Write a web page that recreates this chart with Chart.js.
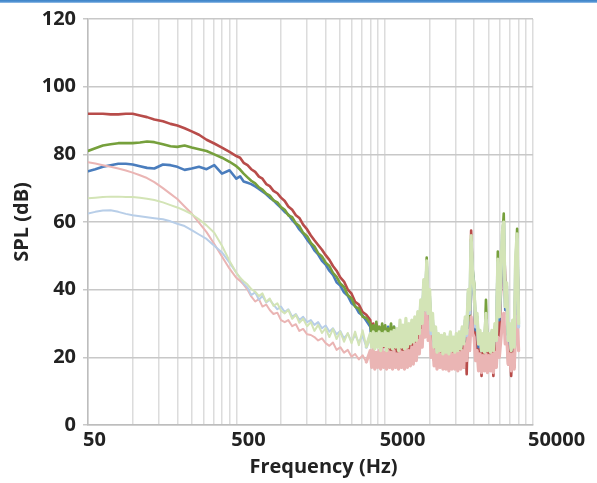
<!DOCTYPE html>
<html><head><meta charset="utf-8">
<script src="https://cdn.jsdelivr.net/npm/chart.js@4/dist/chart.umd.min.js"></script>
<style>
html,body{margin:0;padding:0;background:#fff;}
#wrap{position:relative;width:597px;height:483px;overflow:hidden;}
#topbar{position:absolute;left:0;top:0;width:597px;height:3px;background:linear-gradient(#3d82c6,#5797d6 66%,#b3d0ee);}
canvas{display:block;}
</style></head><body>
<div id="wrap"><canvas id="c" width="597" height="483"></canvas><div id="topbar"></div></div>
<script>
// Frequencies (Hz)
const frequencies = [
50,56,63,71,80,90,100,112,125,140,160,180,200,224,250,280,315,355,400,450,
500,530,560,595,630,670,710,750,795,840,890,945,1000,1060,1120,1190,1260,1330,1410,1500,1590,1680,1780,1890,2000,2120,2240,2370,2510,2660,2820,2990,3160,3350,3550,3760,
4000,4090,4190,4290,4390,4490,4590,4700,4810,4920,
5040,5150,5270,5400,5520,5650,5780,5920,6060,6200,
6340,6490,6640,6800,6950,7120,7280,7450,7620,7800,
7980,8170,8360,8560,8750,8960,9170,9380,9600,9820,
10050,10280,10520,10770,11020,11270,11540,11800,12080,12360,
12650,12940,13240,13550,13870,14190,14520,14860,15200,15560,
15920,16290,16670,17060,17460,17860,18280,18700,19140,19590,
20040,20510,20990,21470,21970,22490,23010,23540,24090,24650,
25230,25820,26420,27030,27660,28300,28960,29640,30330,31030,
31750,32490,33250,34030,34820,35630,36460,37310,38180,39070,
40000];

// SPL (dB) series
const splDarkRed = [
92,92,92,91.8,91.8,92,92,91.5,91,90.3,89.8,89,88.5,87.7,86.8,85.8,84.3,83.2,82,80.7,
79.5,79,77.5,76.8,75.6,74.8,73.4,72.8,71.2,70.6,69.2,68.5,67.2,66.2,64.6,63.6,62,61.2,59.2,57.8,56,54.6,53.2,51.8,50.2,48.8,47,45.6,43.6,42.4,40,38.8,36.4,35.6,33.4,32.6,
31,27,30,26.5,29.5,25,29,24.5,28.5,23,
28,22,27.5,21,27,20,27.5,19.5,27,19,
28,19,27,18.5,28,19,27.5,20,29,21,
30,22,31,24,34,27,40,30,46,30,
36,24,29,19,25,17.5,24,18,23.5,17.5,
24,18,23,17,24,17.5,23,17,24,16.5,
24,17,25,17,28,15,33,22,57.5,44,
38,20,28,17,24,14.5,23,17,26,16.5,
23,16.5,24,14.5,26,18,45,25,38,50,
55,43.5,36,18,25,14.5,24,17,40,52,
33.6];

const splDarkGreen = [
81,81.8,82.6,83,83.3,83.3,83.3,83.5,83.8,83.6,83,82.4,82.2,82.6,82,81.5,81,80,79,77.8,
76.5,75.5,74.3,73.2,72.2,71.4,70.2,69.6,68.4,67.8,66.4,65.8,64.4,63.6,62,61.4,59.6,58.8,56.8,55.8,53.8,52.8,50.8,49.8,48,47,45,43.8,41.8,40.8,38.4,37.4,35,34.4,32,31.6,
30,27,29.5,26,30.5,27.5,29,26.5,30,27,
29.5,26,28.5,27,30,25.5,29,26,28,25,
29,25,28,24.5,29.5,25,28,26,29,27,
30,27,32,29,36,31,42,35,49.5,34,
38,29,31,25,27,23,26,24,25,22.5,
26,23,25.5,22.5,26,23,25,24,26,23,
26,24,28,25,31,27,36,31,55,46,
42,30,32,25,27,24,26,23,37,24,
26,23,27,23.5,29,26,51.3,33,42,55,
62.5,36,40,26,28,23,30,25,44,58,
31];

const splDarkBlue = [
75,75.6,76.3,76.8,77.2,77.2,77,76.5,76,75.8,77,76.8,76.3,75.4,75.8,76.3,75.6,76.8,74.3,75.3,
72.8,73.5,72,71.6,71.2,70.5,69.8,69,68.2,67.2,66.4,65.2,64.2,63,62.2,60.6,59.4,57.8,56.6,54.8,53.4,51.6,50.4,48.5,47.4,45.6,44.4,42.2,41.2,39.2,38.2,36,35.2,33.2,32.4,30.8,
29,24,28,25,29.5,24.5,28,25,29,24,
28.5,25,29,24,28,24.5,29,24,27.5,23.5,
28,23.5,27.5,23,28.5,24,28,25,29,26,
30,27,32,29,36,31,41,34,47,33,
37,27,30,23.5,27,22,26,23,25,22,
26,22,25,22,26,22.5,25.5,23,25.5,23,
26,23,28,24,30,26,35,30,44,42,
38,28,31,23,26,22,25,22,30,22,
25,22,26,22.5,28,25,47,31,40,54,
57,34,39,24,27,22,28,23,43,54,
29];

const splLightRed = [
77.7,77.3,76.8,76.3,75.8,75.2,74.6,73.8,73,71.8,70,68.3,66.8,64.6,62.5,59.8,57,53.5,49.8,46.2,
43.5,42.6,41.5,40,38,36.5,37.2,35,35.6,34,32.8,33.2,31,30.4,31,29.2,29.8,27.8,28.4,26.8,26.6,26,25,25.6,24.2,23.4,24.4,22.2,23,21.4,22.2,20.2,21,19.4,20.6,18.6,
22,17,22.5,16.5,21.5,17,22,16.5,22.5,17,
21.5,16.5,22,17,21.5,16.5,22,17,21,16.5,
22,17,21.5,16.5,22.5,17,22,17.5,23,18,
24,19,25,21,28,23,33,26,36,25,
30,20,24,17.5,22,16.5,21.5,17,21,16.5,
21.5,16.5,21,16,21.5,16.5,21,16.5,21.5,16,
21.5,16.5,22,17,24,19,28,22,32,27,
26,19,22,16,21,15.5,20.5,16,21,15.5,
20.5,16,21,15.5,21.5,17,26,20,25,30,
33,24,26,18,21,16,21,16.5,27,32,
22];

const splLightGreen = [
67,67.2,67.4,67.5,67.5,67.4,67.4,67.2,66.9,66.5,65.8,65,64.3,63.4,62.3,60.8,59,56.8,53,48.5,
45,43.5,42.5,41.5,40.2,39.4,38.1,38.9,36.4,37.4,35.2,36,33.8,33,34,31.4,32.6,30.2,31.4,29.2,30.4,27.8,29.6,27.2,28.6,26,28.4,25.4,27.6,24.6,27.2,24.2,27.6,23.6,28,23.2,
27,23,27.5,22.5,27,23,27.5,22,27,23.5,
27.5,22,27,23,27.5,22.5,28,23,28.5,22,
31,23,29.5,22.5,31.5,23,30,24,31,24.5,
32,25,33.5,27,37,30,43,34,48.5,33,
40,28,33,23,29,21.5,27,22,26.5,21,
27,21.5,26,21,27.5,22,26,21.5,27,22,
27.5,22.5,29,24,32,27,40,34,56,44,
40,30,33,24,28,22,27,21.5,33,22,
27,21.5,28,22,30,25,49,32,44,57,
60,35,42,25,30,22,31,23,50,56.5,
30];

const splLightBlue = [
62.5,63,63.4,63.5,63,62.4,62,61.7,61.4,61.1,60.8,60.2,59.5,58.8,57.6,56.3,55,53,51,48,
45,43.5,41.8,40.6,38.4,39.2,37,38.2,36.2,37,35.6,34.2,35,33.4,34.2,32,32.8,31,32,30.4,31,29.6,30.4,28.6,29.4,27.6,28.6,26.8,27.8,25.6,27,24.6,26.6,24.4,26.4,23,
26.5,23.5,27,23,26.5,23.5,27,23,26.5,23.5,
27,23,26.5,23.5,27,23,27.5,23.5,27,23,
29,23.5,28,23,29.5,23.5,28.5,24.5,29.5,25,
31,26,32.5,28,36,31,42,34,47,33,
38,27,31,23.5,28,22,26,23,26,22,
26.5,22,25.5,21.5,27,22.5,25.5,22,26.5,22.5,
27,23,28.5,24.5,31,26.5,39,33,54,45,
39,29,32,24,27,22,26.5,22,31,22.5,
26.5,22,27.5,22.5,29,25,48,32,43,56,
59.7,35,41,25,29,22.5,30,23.5,48,55,
29];

// Axis ticks
const xGridValues = [50,100,150,200,250,300,350,400,450,500,1000,1500,2000,2500,3000,3500,4000,4500,5000,10000,15000,20000,25000,30000,35000,40000,45000,50000];
const xLabelValues = [50,500,5000,50000];
const xTickLabels = ['50','500','5000','50000'];
const yTickValues = [0,20,40,60,80,100,120];

const seriesList = [
  {data: splLightGreen, color: '#d3e4b6', width: 2, dense: 3.2, order: 0},
  {data: splLightBlue,  color: '#b8cee8', width: 2, dense: 3.2, order: 1},
  {data: splLightRed,   color: '#eab5b4', width: 2, dense: 3.2, order: 2},
  {data: splDarkGreen,  color: '#76a03c', width: 2.6, dense: 2.6, order: 3},
  {data: splDarkBlue,   color: '#4a7dbd', width: 2.6, dense: 2.6, order: 4},
  {data: splDarkRed,    color: '#b84c4a', width: 2.6, dense: 2.6, order: 5}
];

const font = {family: "'Open Sans', 'Liberation Sans', sans-serif", weight: 'bold', size: 20};

new Chart(document.getElementById('c'), {
  type: 'line',
  data: {
    datasets: seriesList.map(s => ({
      data: frequencies.map((f, i) => ({x: f, y: s.data[i]})),
      borderColor: s.color,
      borderWidth: s.width,
      segment: {borderWidth: ctx => ctx.p0.parsed.x >= 3700 ? s.dense : s.width},
      pointRadius: 0,
      tension: 0,
      fill: false,
      borderJoinStyle: 'round',
      borderCapStyle: 'round',
      order: s.order
    }))
  },
  options: {
    responsive: false,
    animation: false,
    devicePixelRatio: 1,
    layout: {padding: {left: 0, right: 64, top: 17, bottom: 0}},
    plugins: {legend: {display: false}, tooltip: {enabled: false}},
    scales: {
      x: {
        type: 'logarithmic',
        min: 50, max: 50000,
        afterBuildTicks: axis => { axis.ticks = xGridValues.map(v => ({value: v})); },
        afterFit: axis => { axis.height = 58; },
        ticks: {
          autoSkip: false, maxRotation: 0, minRotation: 0,
          align: 'start', labelOffset: -5, padding: 3,
          color: '#222', font: font,
          callback: v => { const i = xLabelValues.indexOf(v); return i >= 0 ? xTickLabels[i] : ''; }
        },
        grid: {color: '#dcdcdc', lineWidth: 1.5, drawTicks: false},
        border: {color: '#bdbdbd', width: 1.5},
        title: {display: true, text: '     Frequency (Hz)', color: '#222', font: font, padding: {top: 0, bottom: 4}}
      },
      y: {
        min: 0, max: 120,
        afterBuildTicks: axis => { axis.ticks = yTickValues.map(v => ({value: v})); },
        afterFit: axis => { axis.width = 88; },
        ticks: {color: '#222', font: font, padding: 7},
        grid: {color: '#c8c8c8', lineWidth: 1.5, tickLength: 5},
        border: {color: '#bdbdbd', width: 1.5},
        title: {display: true, text: 'SPL (dB)', color: '#222', font: font, padding: {top: 10, bottom: 0}}
      }
    }
  }
});
</script>
</body></html>
